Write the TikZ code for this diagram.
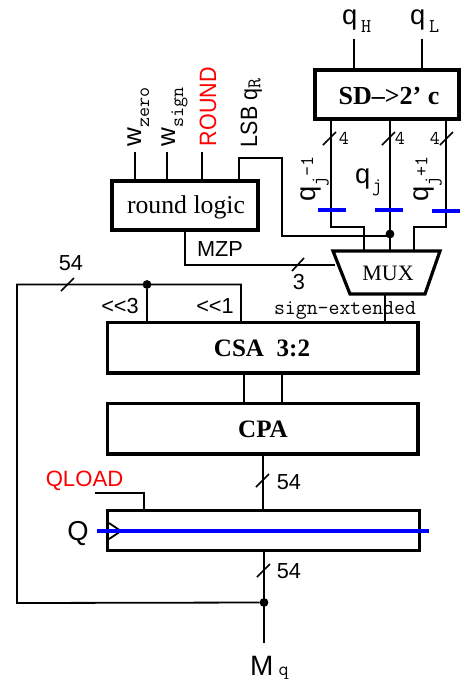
\documentclass[tikz,border=0pt]{standalone}
\usepackage{fontspec}
\setmainfont{Liberation Sans}
\newfontfamily\serf{Liberation Serif}
\newcommand{\fsz}[1]{\fontsize{#1}{#1}\selectfont}
\newcommand{\msub}[2][-6pt]{\raisebox{#1}{\ttfamily\fsz{14.6}#2}}
\newcommand{\tall}[1]{\scalebox{1}[1.1]{#1}}
\tikzset{
  wire/.style={line width=1.35pt,black,line cap=butt,line join=miter},
  slashmark/.style={line width=1.2pt,black},
  blk/.style={draw=black,line width=2.7pt,inner sep=0pt,outer sep=0pt,anchor=north west},
  lbl/.style={inner sep=0pt,outer sep=0pt,anchor=base,font=\fsz{16.3}},
  lblw/.style={lbl,anchor=base west},
  rlbl/.style={inner sep=0pt,outer sep=0pt,anchor=base west,rotate=90,font=\fsz{16.1}},
  junction/.style={circle,fill=black,inner sep=0pt,outer sep=0pt,minimum size=6.6pt},
  ticktext/.style={inner sep=0pt,outer sep=0pt,anchor=base,font=\ttfamily\fsz{14.6}},
  bluebar/.style={draw=blue,line width=3pt},
}
\begin{document}
\begin{tikzpicture}[x=0.75pt,y=-0.75pt]
\useasboundingbox (0,0) rectangle (461,679);
% blocks
\node[blk,minimum width=108pt,minimum height=36.75pt] (sd) at (315,70) {};
\node[blk,minimum width=109.5pt,minimum height=36.75pt] (rl) at (112,181) {};
\node[blk,minimum width=233pt,minimum height=38pt] (csa) at (107.5,322.5) {};
\node[blk,minimum width=233pt,minimum height=38pt] (cpa) at (107.5,403.5) {};
\node[blk,minimum width=234pt,minimum height=30pt] (qr) at (107.5,510.5) {};
\node[lbl,font=\serf\bfseries\fsz{19.5}] (sdt) at (389,104) {SD–>2’ c};
\node[lbl,font=\serf\fsz{19.3}] (rlt) at (186,213) {round logic};
\node[lbl,font=\serf\bfseries\fsz{18.8}] (csat) at (262,356) {CSA\ \ 3:2};
\node[lbl,font=\serf\bfseries\fsz{18.8}] (cpat) at (263,437) {CPA};
% mux
\coordinate (mtl) at (333,251);
\coordinate (mtr) at (440,251);
\coordinate (mbr) at (425,294);
\coordinate (mbl) at (350,294);
\draw[line width=2.4pt,line join=miter] (mtl) -- (mtr) -- (mbr) -- (mbl) -- cycle;
\node[lbl,font=\serf\fsz{16.5}] (muxt) at (388,280) {MUX};
% top inputs
\coordinate (qh) at (354,39);
\coordinate (ql) at (422,39);
\draw[wire] (qh) -- (qh |- sd.north);
\draw[wire] (ql) -- (ql |- sd.north);
\node[lblw,font=\fsz{20.5}] (qhl) at (342,24) {q\hspace{3pt}\msub{H}};
\node[lblw,font=\fsz{20.5}] (qll) at (410,24) {q\hspace{3pt}\msub{L}};
% SD outputs to mux
\coordinate (a1) at (331,227);
\coordinate (a2) at (364,227);
\coordinate (a3) at (364,251);
\coordinate (b1) at (390,118);
\coordinate (b2) at (390,251);
\coordinate (c1) at (446,227);
\coordinate (c2) at (414,227);
\coordinate (c3) at (414,251);
\draw[wire] (a1 |- sd.south) -- (a1) -- (a2) -- (a3);
\draw[wire] (b1) -- (b2);
\draw[wire] (c1 |- sd.south) -- (c1) -- (c2) -- (c3);
\node[junction] (dj) at (390,234) {};
% round logic inputs
\coordinate (wz) at (135,152);
\coordinate (ws) at (167,152);
\coordinate (rd) at (202,152);
\draw[wire] (wz) -- (wz |- rl.north);
\draw[wire] (ws) -- (ws |- rl.north);
\draw[wire] (rd) -- (rd |- rl.north);
\node[rlbl,font=\fsz{19.5}] (wzl) at (141,146) {w\msub{zero}};
\node[rlbl,font=\fsz{19.5}] (wsl) at (175,146) {w\msub{sign}};
\node[rlbl,text=red] (rdl) at (216,146) {\tall{ROUND}};
\node[rlbl] (lsbl) at (257,147) {\tall{LSB q}\msub[-2.5pt]{R}};
% LSB wire
\coordinate (l1) at (239,158);
\coordinate (l2) at (282,158);
\coordinate (l3) at (282,236);
\draw[wire] (l1 |- rl.north) -- (l1) -- (l2) -- (l3) -- (l3 -| dj);
% width ticks
\draw[slashmark] (323,145) -- (336,132);
\draw[slashmark] (382,145) -- (395,132);
\draw[slashmark] (440,145) -- (453,132);
\node[ticktext] (t4a) at (344,144) {4};
\node[ticktext] (t4b) at (400,144) {4};
\node[ticktext] (t4c) at (435,144) {4};
% q_j labels
\node[rlbl,font=\fsz{20.5}] (qm) at (315,201) {q\hspace{-0.5pt}\msub[-7pt]{j}\msub[1.5pt]{-1}};
\node[lblw,font=\fsz{20.5}] (qz) at (355,183) {q\hspace{1.5pt}\msub{j}};
\node[rlbl,font=\fsz{20.5}] (qp) at (428,201) {q\hspace{-0.5pt}\msub[-7pt]{j}\msub[0.5pt]{+1}};
\draw[bluebar] (318,210) -- (346,210);
\draw[bluebar] (375,210) -- (403,210);
\draw[bluebar] (432,211) -- (460,211);
% MZP
\coordinate (mz1) at (185,265);
\coordinate (mz2) at (335,265);
\draw[wire] (mz1 |- rl.south) -- (mz1) -- (mz2);
\node[lbl] (mzpl) at (220,256) {MZP};
\draw[slashmark] (292,271) -- (304,258);
\node[lbl] (n3) at (299,289) {3};
% mux to CSA
\coordinate (mo) at (385,294);
\draw[wire] (mo) -- (mo |- csa.north);
\node[lbl,font=\ttfamily\fsz{15.9}] (sext) at (345,314) {sign-extended};
% CSA CPA
\coordinate (cc1) at (244,373);
\coordinate (cc2) at (282,373);
\draw[wire] (cc1) -- (cc1 |- cpa.north);
\draw[wire] (cc2) -- (cc2 |- cpa.north);
% feedback
\coordinate (f1) at (17,603);
\coordinate (f2) at (17,284.5);
\coordinate (f3) at (241,284.5);
\node[junction] (dfb) at (147,284.5) {};
\node[junction] (dq) at (264,602.5) {};
\draw[wire] (dq) -- (f1) -- (f2) -- (f3) -- (f3 |- csa.north);
\draw[wire] (dfb) -- (dfb |- csa.north);
\draw[slashmark] (61,291) -- (74,278);
\node[lbl] (n54a) at (71,270) {54};
\node[lbl] (sl3) at (120,313) {<{}<3};
\node[lbl] (sl1) at (215,313) {<{}<1};
% CPA to Q
\coordinate (cq) at (263,454);
\draw[wire] (cq) -- (cq |- qr.north);
\draw[slashmark] (256,487) -- (269,474);
\node[lbl] (n54b) at (289,489) {54};
% Q register
\coordinate (ql0) at (95,493);
\coordinate (ql1) at (144,493);
\draw[wire] (ql0) -- (ql1) -- (ql1 |- qr.north);
\node[lbl,text=red,font=\fsz{16.6}] (qloadl) at (84.5,486) {QLOAD};
\node[lbl,font=\fsz{20.5}] (qrl) at (78,540) {Q};
\draw[wire] (109,523) -- (121,531) -- (109,539);
\draw[line width=2.6pt,blue] (97,531) -- (429,531);
% output
\coordinate (mo2) at (264,643);
\draw[wire] (mo2 |- qr.south) -- (mo2);
\draw[slashmark] (257,577) -- (270,564);
\node[lbl] (n54c) at (289,578) {54};
\node[lblw,font=\fsz{21}] (mql) at (250,675) {M\hspace{4pt}\msub[0pt]{q}};
\end{tikzpicture}
\end{document}
